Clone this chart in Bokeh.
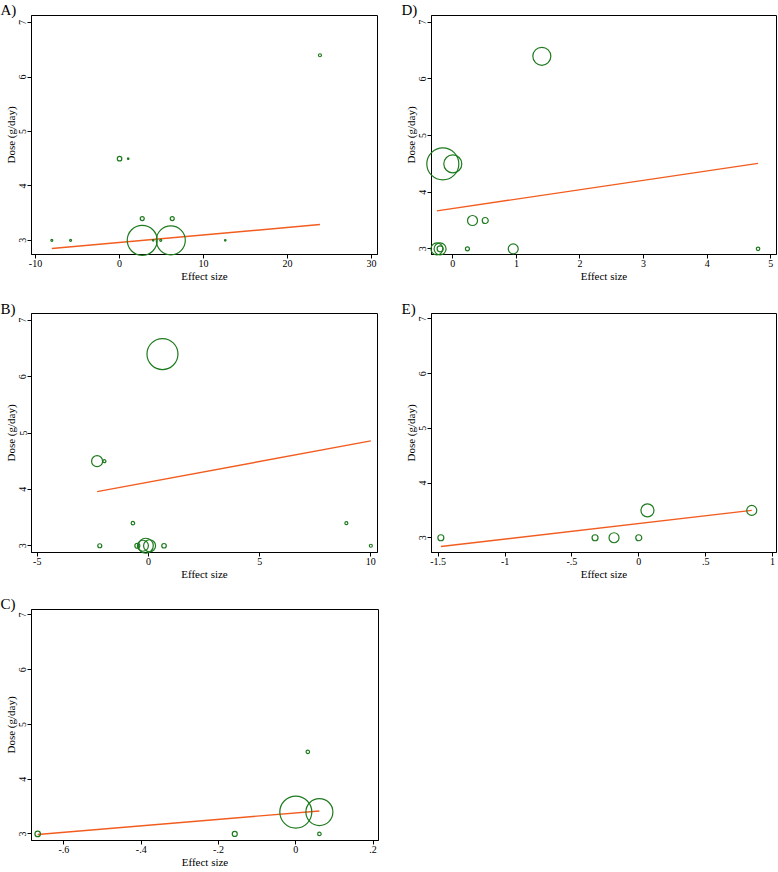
from bokeh.plotting import figure
from bokeh.layouts import column, row
from bokeh.models import FixedTicker, Range1d
from bokeh.core.properties import value
from bokeh.embed import file_html
from bokeh.resources import INLINE

# ---------------- data ----------------
# Panel A
a_x = [-8.06, -5.83, 0.0, 1.03, 2.7, 6.27, 2.7, 6.1, 4.0, 4.9, 12.58, 23.85]
a_y = [3, 3, 4.5, 4.5, 3.4, 3.4, 3, 3, 3, 3, 3, 6.4]
a_w = [2, 2, 4.5, 1.5, 4, 4, 30, 29, 1.5, 2, 1.5, 3]
a_fit_x = [-8.06, 23.85]
a_fit_y = [2.85, 3.29]
a_ticks = [-10, 0, 10, 20, 30]
a_tick_labels = ["-10", "0", "10", "20", "30"]

# Panel B
b_x = [0.63, -2.31, -1.98, -0.70, 8.9, -2.19, -0.5, -0.25, -0.12, 0.05, 0.7, 10.0]
b_y = [6.4, 4.5, 4.5, 3.4, 3.4, 3, 3, 3, 3, 3, 3, 3]
b_w = [31, 11, 3, 3.5, 3, 4, 5, 11, 15, 12, 4.5, 3]
b_fit_x = [-2.31, 10.0]
b_fit_y = [3.96, 4.86]
b_ticks = [-5, 0, 5, 10]
b_tick_labels = ["-5", "0", "5", "10"]

# Panel C
c_x = [-0.668, -0.158, 0.031, 0.061, 0.0, 0.061]
c_y = [3, 3, 4.5, 3, 3.4, 3.4]
c_w = [5.5, 5, 3.5, 3.5, 32, 27]
c_fit_x = [-0.668, 0.061]
c_fit_y = [2.99, 3.42]
c_ticks = [-0.6, -0.4, -0.2, 0, 0.2]
c_tick_labels = ["-.6", "-.4", "-.2", "0", ".2"]

# Panel D
d_x = [1.40, -0.157, 0.0, 0.31, 0.51, -0.25, -0.20, -0.20, 0.23, 0.95, 4.80]
d_y = [6.4, 4.5, 4.5, 3.5, 3.5, 3, 3, 3, 3, 3, 3]
d_w = [18, 32, 18, 10, 6, 12, 12, 6, 4, 10, 3.5]
d_fit_x = [-0.25, 4.80]
d_fit_y = [3.67, 4.51]
d_ticks = [0, 1, 2, 3, 4, 5]
d_tick_labels = ["0", "1", "2", "3", "4", "5"]

# Panel E
e_x = [-1.48, -0.327, -0.185, 0.0, 0.065, 0.845]
e_y = [3, 3, 3, 3, 3.5, 3.5]
e_w = [6, 6, 10, 6, 13, 10]
e_fit_x = [-1.48, 0.845]
e_fit_y = [2.84, 3.5]
e_ticks = [-1.5, -1, -0.5, 0, 0.5, 1]
e_tick_labels = ["-1.5", "-1", "-.5", "0", ".5", "1"]

y_ticks = [3, 4, 5, 6, 7]

GREEN = "#1e7a1e"
ORANGE = "#f25c1f"
FONT = "Liberation Serif"


def panel(tag, xs, ys, ws, fx, fy, xticks, xlabels, xr, yr, width, height,
          bl, br, bt, bb, tag_dx, tag_dy):
    p = figure(width=width, height=height, output_backend="svg",
               toolbar_location=None, x_range=Range1d(*xr), y_range=Range1d(*yr),
               min_border_left=bl, min_border_right=br, min_border_top=bt,
               min_border_bottom=bb, background_fill_color="white",
               border_fill_color="white")
    p.grid.visible = False
    p.outline_line_color = "black"
    p.outline_line_width = 1
    p.outline_line_alpha = 1

    p.line(fx, fy, line_color=ORANGE, line_width=1.4)
    p.scatter(xs, ys, size=ws, marker="circle", fill_color=None,
              line_color=GREEN, line_width=1.2, level="overlay")

    for ax in (p.xaxis[0], p.yaxis[0]):
        ax.axis_line_color = "black"
        ax.major_tick_line_color = "black"
        ax.major_tick_out = 4
        ax.major_tick_in = 0
        ax.minor_tick_line_color = None
        ax.major_label_text_font = FONT
        ax.major_label_text_font_size = "10px"
        ax.major_label_text_color = "black"
        ax.axis_label_text_font = FONT
        ax.axis_label_text_font_size = "11px"
        ax.axis_label_text_font_style = "normal"
        ax.axis_label_text_color = "black"
        ax.major_label_standoff = 1
        ax.axis_label_standoff = 0

    p.xaxis.ticker = FixedTicker(ticks=xticks)
    p.xaxis.major_label_overrides = {float(t): l for t, l in zip(xticks, xlabels)}
    p.xaxis.axis_label = "Effect size"
    p.yaxis.ticker = FixedTicker(ticks=y_ticks)
    p.yaxis.axis_label = "Dose (g/day)"
    p.yaxis.major_label_orientation = "vertical"

    p.text(x=[xr[0]], y=[yr[1]], text=[tag], x_offset=tag_dx, y_offset=tag_dy,
           text_font=value(FONT), text_font_size="15px", text_align="left",
           text_baseline="top", text_color="black", level="overlay")
    return p


pa = panel("A)", a_x, a_y, a_w, a_fit_x, a_fit_y, a_ticks, a_tick_labels,
           (-10.48, 30.7), (2.74, 7.13), 388, 285, 31, 11, 15, 31, -31, -14)
pd_ = panel("D)", d_x, d_y, d_w, d_fit_x, d_fit_y, d_ticks, d_tick_labels,
            (-0.335, 5.09), (2.90, 7.12), 390, 285, 43, 2, 15, 31, -30, -14)
pb = panel("B)", b_x, b_y, b_w, b_fit_x, b_fit_y, b_ticks, b_tick_labels,
           (-5.26, 10.3), (2.88, 7.12), 388, 297, 31, 11, 27, 30, -31, -13)
pe = panel("E)", e_x, e_y, e_w, e_fit_x, e_fit_y, e_ticks, e_tick_labels,
           (-1.55, 1.03), (2.73, 7.10), 390, 297, 43, 2, 28, 30, -30, -13)
pc = panel("C)", c_x, c_y, c_w, c_fit_x, c_fit_y, c_ticks, c_tick_labels,
           (-0.684, 0.214), (2.88, 7.10), 388, 288, 31, 10, 27, 30, -31, -14)

layout = column(row(pa, pd_), row(pb, pe), pc)

with open("out.html", "w") as f:
    f.write(file_html(layout, INLINE))
